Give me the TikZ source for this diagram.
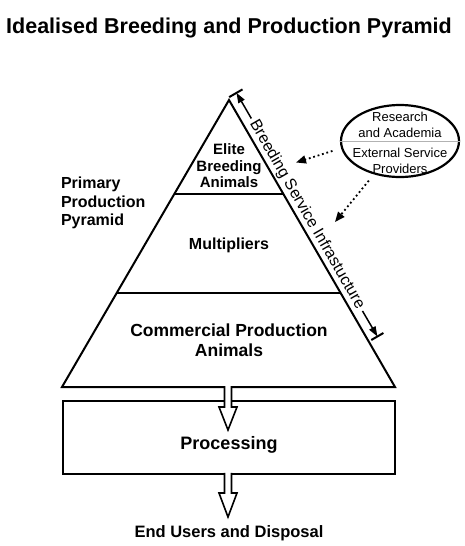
\documentclass[tikz,border=0pt]{standalone}
\usepackage{fontspec}
\setmainfont{Liberation Sans}
\usetikzlibrary{arrows.meta, shapes.geometric}

\begin{document}
\begin{tikzpicture}[x=1pt, y=-1pt, line width=2pt,
        eltext/.style={font=\bfseries\fontsize{15}{16.5}\selectfont, align=center, inner sep=0pt},
        bigtext/.style={font=\bfseries\fontsize{17.5}{20}\selectfont, align=center, inner sep=0pt},
        restext/.style={font=\fontsize{13}{16}\selectfont, align=center, inner sep=0pt},
        dotarrow/.style={line width=1.8pt, dash pattern=on 1.8pt off 2.8pt, -{Triangle[length=10pt, width=8pt]}},
        hollow/.style={line width=1.6pt, fill=white}]

        \useasboundingbox (0, 0) rectangle (464, 546);

        \node[font=\bfseries\fontsize{21.5}{25}\selectfont] (title) at (229, 28) {Idealised Breeding and Production Pyramid};

        % pyramid
        \coordinate (apex) at (229, 100);
        \coordinate (baseL) at (62, 387);
        \coordinate (baseR) at (395, 387);
        \draw (baseL) -- (apex) -- (baseR) -- cycle;
        \draw (174.3, 194) -- (283.4, 194);
        \draw (116.7, 293) -- (340.6, 293);

        \node[eltext] (elite) at (229, 166) {Elite\\Breeding\\Animals};
        \node[font=\bfseries\fontsize{16}{19}\selectfont, inner sep=0pt] (mult) at (229, 245) {Multipliers};
        \node[bigtext] (comm) at (229, 340) {Commercial Production\\Animals};
        \node[font=\bfseries\fontsize{16}{18.5}\selectfont, align=left, anchor=west, inner sep=0pt] (prim) at (60, 203) {Primary\\Production\\Pyramid};

        % processing box and flow arrows
        \draw[line width=2.2pt] (63, 401) rectangle (395, 474);
        \draw[hollow] (224.5, 386) -- (224.5, 407) -- (219, 407) -- (228, 430) -- (237, 407) -- (231.5, 407) -- (231.5, 386);
        \draw[hollow] (224.5, 472.8) -- (224.5, 493) -- (219, 493) -- (228, 517) -- (237, 493) -- (231.5, 493) -- (231.5, 472.8);

        \node[font=\bfseries\fontsize{18}{21}\selectfont, inner sep=0pt] (proc) at (229, 445) {Processing};
        \node[font=\bfseries\fontsize{16.5}{19}\selectfont, inner sep=0pt] (enduse) at (229, 533) {End Users and Disposal};

        % service bracket
        \coordinate (tickTa) at (229.2, 97.1);
        \coordinate (tickTb) at (242.5, 89.4);
        \coordinate (tickBa) at (371.3, 340);
        \coordinate (tickBb) at (383.4, 333);
        \coordinate (bsiTop) at (236.5, 92.9);
        \coordinate (bsiBot) at (377.4, 336.5);
        \draw (tickTa) -- (tickTb);
        \draw (tickBa) -- (tickBb);
        \node[rotate=-60, font=\fontsize{16}{18}\selectfont, inner sep=2.5pt] (bsi) at (306.9, 214.7) {Breeding Service Infrastucture};
        \draw[line width=1.5pt, -{Triangle[length=10pt, width=7pt]}] (bsi.west) -- (bsiTop);
        \draw[line width=1.5pt, -{Triangle[length=10pt, width=7pt]}] (bsi.east) -- (bsiBot);

        % research ellipse
        \node[ellipse, draw, line width=2.2pt, minimum width=118, minimum height=72, inner sep=0pt] (res) at (400, 141) {};
        \draw[gray!60, line width=0.7pt] (res.west) -- (res.east);
        \node[restext] (acad) at (400, 124.5) {Research\\and Academia};
        \node[restext] (ext) at (400, 160.5) {External Service\\Providers};

        \coordinate (dotA) at (296, 162.5);
        \coordinate (dotB) at (335, 222);
        \draw[dotarrow, shorten <=9pt] (res.187) -- (dotA);
        \draw[dotarrow, shorten <=8pt] (res.232) -- (dotB);
    \end{tikzpicture}
\end{document}
